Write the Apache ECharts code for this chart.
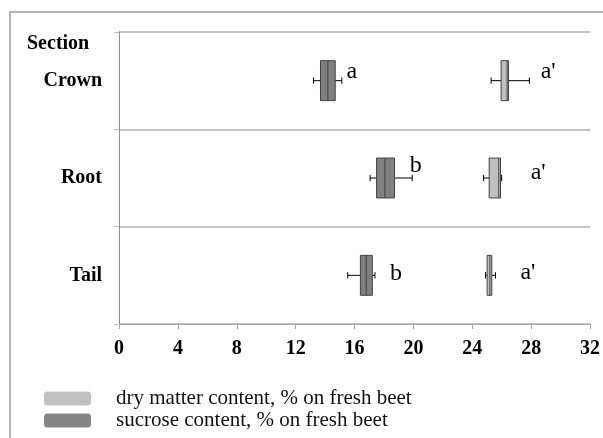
<!DOCTYPE html>
<html>
<head>
<meta charset="utf-8">
<script src="https://cdn.jsdelivr.net/npm/echarts@6/dist/echarts.min.js"></script>
<style>
html, body { margin: 0; padding: 0; background: #fff; }
#chart { width: 603px; height: 438px; }
</style>
</head>
<body>
<div id="chart"></div>
<script>
'use strict';

// beet sections, top to bottom
var categories = ['Crown', 'Root', 'Tail'];

// [whisker low, q1, median, q3, whisker high], % on fresh beet
var sucroseStats = [
    [13.22, 13.69, 14.19, 14.69, 15.14],
    [17.06, 17.50, 18.07, 18.72, 19.92],
    [15.54, 16.40, 16.80, 17.21, 17.39]
];
var dryMatterStats = [
    [25.28, 25.96, 26.37, 26.46, 27.88],
    [24.77, 25.15, 25.80, 25.92, 26.00],
    [24.90, 25.01, 25.20, 25.33, 25.58]
];

// significance letters and where they sit on the value axis
var sucroseLetters = ['a', 'b', 'b'];
var sucroseLetterX = [15.45, 19.76, 18.41];
var dryMatterLetters = ["a'", "a'", "a'"];
var dryMatterLetterX = [28.65, 27.97, 27.27];

var xMin = 0;
var xMax = 32;
var xStep = 4;

var seriesNames = ['dry matter content, % on fresh beet', 'sucrose content, % on fresh beet'];

var FONT = '"Liberation Serif", "Times New Roman", serif';

function toData(stats) {
    var out = [];
    for (var i = 0; i < stats.length; i++) {
        out.push([i].concat(stats[i]));
    }
    return out;
}

/**
 * Builds a renderItem for one box series: whisker, caps, box, median, letter.
 */
function boxRenderer(fill, letters, letterX, nudge) {
    return function (params, api) {
        var cat = api.value(0);
        var lo = api.coord([api.value(1), cat]);
        var q1 = api.coord([api.value(2), cat]);
        var md = api.coord([api.value(3), cat]);
        var q3 = api.coord([api.value(4), cat]);
        var hi = api.coord([api.value(5), cat]);
        var band = api.size([0, 1])[1];
        var bh = band * 0.41;
        var ch = band * 0.065;
        var y = lo[1];
        var lt = api.coord([letterX[params.dataIndex], cat]);
        var line = { stroke: '#000', lineWidth: 1 };
        return {
            type: 'group',
            children: [
                { type: 'line', shape: { x1: lo[0], y1: y, x2: hi[0], y2: y }, style: line },
                { type: 'line', shape: { x1: lo[0], y1: y - ch / 2, x2: lo[0], y2: y + ch / 2 }, style: line },
                { type: 'line', shape: { x1: hi[0], y1: y - ch / 2, x2: hi[0], y2: y + ch / 2 }, style: line },
                {
                    type: 'rect',
                    shape: { x: q1[0], y: y - bh / 2, width: q3[0] - q1[0], height: bh },
                    style: { fill: fill, stroke: '#404040', lineWidth: 1 }
                },
                { type: 'line', shape: { x1: md[0], y1: y - bh / 2, x2: md[0], y2: y + bh / 2 }, style: { stroke: '#404040', lineWidth: 1 } },
                {
                    type: 'text',
                    style: {
                        text: letters[params.dataIndex],
                        x: lt[0],
                        y: y + nudge[params.dataIndex],
                        fontSize: 24,
                        fontFamily: FONT,
                        fill: '#000',
                        verticalAlign: 'middle'
                    }
                }
            ]
        };
    };
}

function legendBox(name, top) {
    return {
        data: [name],
        orient: 'vertical',
        left: 44,
        top: top,
        padding: 0,
        itemWidth: 47,
        itemHeight: 14,
        icon: 'roundRect',
        itemStyle: { borderWidth: 0 },
        textStyle: { fontFamily: FONT, fontSize: 21, lineHeight: 14, color: '#111', padding: [0, 0, 0, 20] }
    };
}

var chart = echarts.init(document.getElementById('chart'));

var options = {
    animation: false,
    title: {
        text: 'Section',
        left: 27,
        top: 34,
        padding: 0,
        textStyle: { fontFamily: FONT, fontSize: 20, fontWeight: 'bold', color: '#000' }
    },
    graphic: [
        {
            type: 'polyline',
            shape: { points: [[10, 438], [10, 12], [603, 12]] },
            style: { stroke: '#b4b4b4', lineWidth: 2, fill: null }
        }
    ],
    legend: [
        legendBox(seriesNames[0], 388),
        legendBox(seriesNames[1], 410)
    ],
    grid: {
        left: 119,
        right: 11,
        top: 32,
        bottom: 114,
        containLabel: false
    },
    xAxis: {
        type: 'value',
        min: xMin,
        max: xMax,
        interval: xStep,
        axisLine: { show: true, lineStyle: { color: '#a6a6a6', width: 1 } },
        axisTick: { show: true, length: 5, lineStyle: { color: '#a6a6a6' } },
        splitLine: { show: false },
        axisLabel: { margin: 15, fontFamily: FONT, fontSize: 20, fontWeight: 'bold', color: '#000' }
    },
    yAxis: {
        type: 'category',
        data: categories,
        inverse: true,
        axisLine: { show: true, lineStyle: { color: '#8c8c8c', width: 1 } },
        axisTick: { show: true, length: 5, lineStyle: { color: '#bdbdbd' } },
        splitLine: { show: true, lineStyle: { color: '#c4c4c4', width: 2 } },
        axisLabel: { margin: 17, fontFamily: FONT, fontSize: 20, fontWeight: 'bold', color: '#000' }
    },
    series: [
        {
            name: seriesNames[0],
            type: 'custom',
            itemStyle: { color: '#c0c0c0' },
            encode: { x: [1, 2, 3, 4, 5], y: 0 },
            renderItem: boxRenderer('#c0c0c0', dryMatterLetters, dryMatterLetterX, [-9, -5, -3]),
            data: toData(dryMatterStats)
        },
        {
            name: seriesNames[1],
            type: 'custom',
            itemStyle: { color: '#858585' },
            encode: { x: [1, 2, 3, 4, 5], y: 0 },
            renderItem: boxRenderer('#808080', sucroseLetters, sucroseLetterX, [-9, -12, -2]),
            data: toData(sucroseStats)
        }
    ]
};

chart.setOption(options);
window.onresize = function () {
    chart.resize();
};
</script>
</body>
</html>
